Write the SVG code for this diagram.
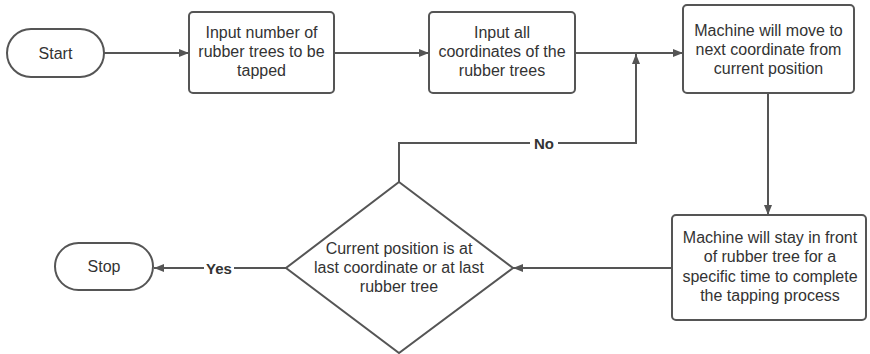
<svg xmlns="http://www.w3.org/2000/svg" width="870" height="354" viewBox="0 0 870 354">
  <defs>
    <marker id="arrow" viewBox="0 0 10 10" refX="10" refY="5" markerWidth="10" markerHeight="10" markerUnits="userSpaceOnUse" orient="auto">
      <path d="M0,1 L10,5 L0,9 Z" fill="#555"/>
    </marker>
    <style>
      .shape { fill: #fff; stroke: #555; stroke-width: 2; }
      .line { fill: none; stroke: #555; stroke-width: 2; }
      .txt { font-family: "Liberation Sans", Arial, sans-serif; font-size: 16px; fill: #333; text-anchor: middle; dominant-baseline: central; }
      .lbl { font-family: "Liberation Sans", Arial, sans-serif; font-size: 15px; font-weight: bold; fill: #333; text-anchor: middle; dominant-baseline: central; }
    </style>
  </defs>
  <rect width="870" height="354" fill="#fff"/>

  <!-- connectors -->
  <g id="connectors">
    <line class="line" x1="104" y1="53" x2="189" y2="53" marker-end="url(#arrow)"/>
    <line class="line" x1="334" y1="53" x2="429" y2="53" marker-end="url(#arrow)"/>
    <line class="line" x1="575" y1="53" x2="683" y2="53" marker-end="url(#arrow)"/>
    <line class="line" x1="768" y1="93" x2="768" y2="215" marker-end="url(#arrow)"/>
    <line class="line" x1="672" y1="268" x2="513" y2="268" marker-end="url(#arrow)"/>
    <polyline class="line" points="399,182 399,143 636,143 636,54" marker-end="url(#arrow)"/>
    <line class="line" x1="286" y1="268" x2="154" y2="268" marker-end="url(#arrow)"/>
    <rect x="530" y="134" width="28" height="18" fill="#fff"/>
    <text class="lbl" x="544" y="143">No</text>
    <rect x="204" y="259" width="30" height="18" fill="#fff"/>
    <text class="lbl" x="219" y="268">Yes</text>
  </g>

  <g id="start">
    <rect class="shape" x="7" y="29" width="97" height="48" rx="24" ry="24"/>
    <text class="txt" x="55.5" y="53">Start</text>
  </g>

  <g id="input-count">
    <rect class="shape" x="189" y="12" width="145" height="81" rx="4"/>
    <text class="txt" x="261.5" y="32">Input number of</text>
    <text class="txt" x="261.5" y="51">rubber trees to be</text>
    <text class="txt" x="261.5" y="70">tapped</text>
  </g>

  <g id="input-coords">
    <rect class="shape" x="429" y="12" width="146" height="81" rx="4"/>
    <text class="txt" x="502" y="32">Input all</text>
    <text class="txt" x="502" y="51">coordinates of the</text>
    <text class="txt" x="502" y="70">rubber trees</text>
  </g>

  <g id="move">
    <rect class="shape" x="683" y="5" width="171" height="88" rx="4"/>
    <text class="txt" x="768.5" y="30">Machine will move to</text>
    <text class="txt" x="768.5" y="49">next coordinate from</text>
    <text class="txt" x="768.5" y="68">current position</text>
  </g>

  <g id="tap">
    <rect class="shape" x="672" y="215" width="194" height="105" rx="4"/>
    <text class="txt" x="770" y="237">Machine will stay in front</text>
    <text class="txt" x="770" y="256">of rubber tree for a</text>
    <text class="txt" x="770" y="276">specific time to complete</text>
    <text class="txt" x="770" y="295">the tapping process</text>
  </g>

  <g id="decision">
    <polygon class="shape" points="399,182 513,268 399,353 286,268"/>
    <text class="txt" x="399" y="248">Current position is at</text>
    <text class="txt" x="399" y="267">last coordinate or at last</text>
    <text class="txt" x="399" y="286">rubber tree</text>
  </g>

  <g id="stop">
    <rect class="shape" x="55" y="243" width="98" height="47" rx="23.5" ry="23.5"/>
    <text class="txt" x="104" y="266">Stop</text>
  </g>
</svg>
